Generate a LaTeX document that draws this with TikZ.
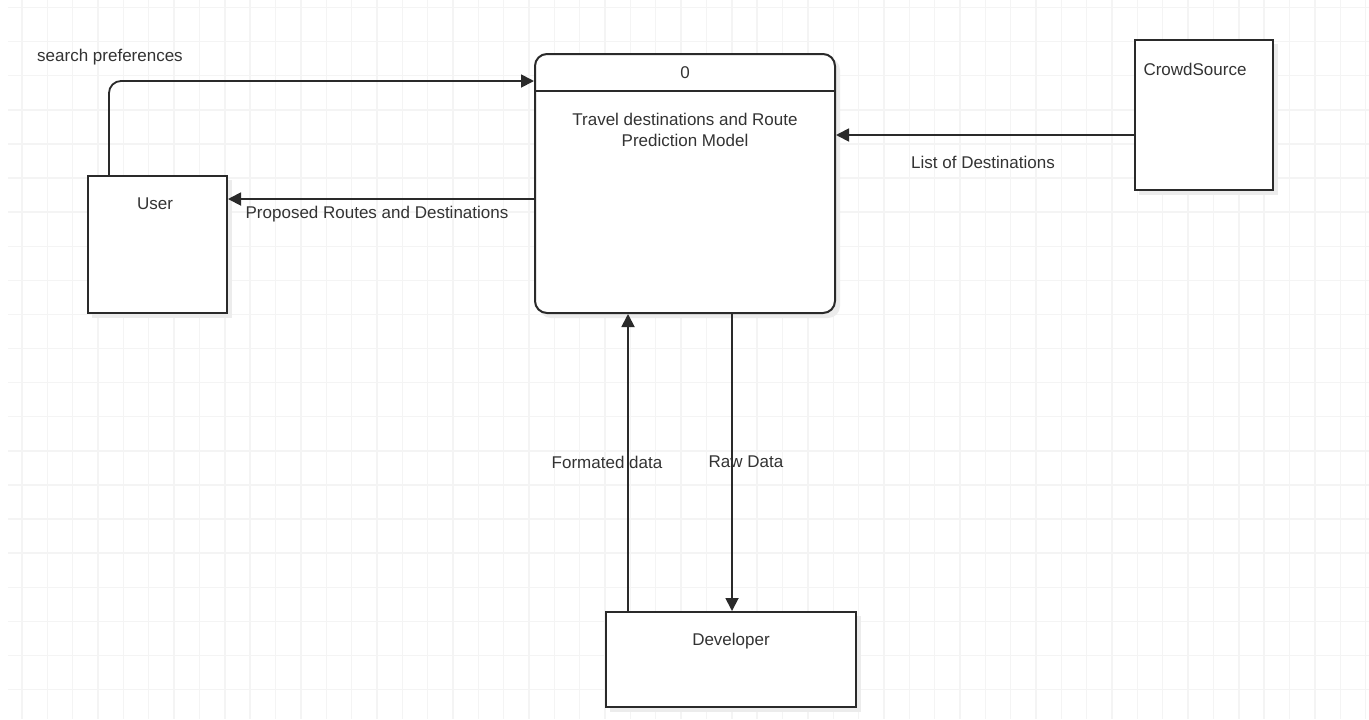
\documentclass[tikz,border=0pt]{standalone}
\usepackage{fontspec}
\setmainfont{Liberation Sans}
\usetikzlibrary{arrows.meta,calc}
\definecolor{inktext}{HTML}{333333}
\definecolor{inkline}{HTML}{2A2A2A}
\definecolor{gridline}{HTML}{F4F4F4}
\definecolor{shade}{HTML}{ECECEC}
\tikzset{
  entity/.style={draw=inkline, line width=1pt, fill=white, rectangle, inner sep=0pt},
  procbox/.style={entity, rounded corners=6pt},
  txt/.style={inner sep=0pt, text=inktext, font=\fontsize{8.5}{10.5}\selectfont, align=center},
  flow/.style={draw=inkline, line width=0.9pt, -{Triangle[length=6.5pt,width=6.5pt]}},
  shadowfill/.style={fill=shade, draw=none}
}
\begin{document}
\begin{tikzpicture}[x=0.5pt,y=-0.5pt]
\useasboundingbox (0,0) rectangle (1369,719);
\fill[white] (0,0) rectangle (1369,719);
% background grid
\foreach \i in {0,...,20} {
  \draw[gridline, line width=0.7pt] (8,{7.5+34.1*\i}) -- (1369,{7.5+34.1*\i});
}
\foreach \i in {0,...,53} {
  \draw[gridline, line width=0.7pt] ({22+25.35*\i},0) -- ({22+25.35*\i},719);
}
% soft drop shadows
\fill[shadowfill] (92,180) rectangle (232,318);
\fill[shadowfill, rounded corners=6pt] (539,58) rectangle (840,318);
\fill[shadowfill] (1139,44) rectangle (1278,195);
\fill[shadowfill] (610,616) rectangle (861,712);

% external entities and the process
\node[entity, minimum width=69.5pt, minimum height=68.5pt] (user) at (157.5,244.5) {};
\node[procbox, minimum width=150pt, minimum height=129.5pt] (proc) at (685,183.5) {};
\node[entity, minimum width=69pt, minimum height=75pt] (crowd) at (1204,115) {};
\node[entity, minimum width=125pt, minimum height=47.5pt] (dev) at (731,659.5) {};

% process header divider
\draw[inkline, line width=1pt] ($(proc.north west)+(0,-19pt)$) -- ($(proc.north east)+(0,-19pt)$);

% box texts
\node[txt] (usertxt) at (155,204) {User};
\node[txt] (zero) at (685,73) {0};
\node[txt] (proctxt) at (685,130) {Travel destinations and Route\\Prediction Model};
\node[txt] (crowdtxt) at (1195,69) {CrowdSource};
\node[txt] (devtxt) at (731,641) {Developer};

% anchor points of the flows
\coordinate (propstart) at ($(proc.west)+(0,-7.75pt)$);
\coordinate (liststart) at ($(crowd.west)+(0,-10pt)$);
\coordinate (formstart) at ($(dev.north)+(-51.5pt,0)$);
\coordinate (rawstart) at ($(proc.south)+(23.5pt,0)$);

% data flows
\draw[flow, rounded corners=6pt] ($(user.north west)+(11pt,0)$) |- ($(proc.north west)+(0,-14pt)$);
\draw[flow] (propstart) -- (propstart -| user.east);
\draw[flow] (liststart) -- (liststart -| proc.east);
\draw[flow] (formstart) -- (formstart |- proc.south);
\draw[flow] (rawstart) -- (rawstart |- dev.north);

% flow labels
\node[txt] (lsearch) at (110,57) {search preferences};
\node[txt] (lprop) at (377,214) {Proposed Routes and Destinations};
\node[txt] (llist) at (983,162) {List of Destinations};
\node[txt] (lform) at (607,462) {Formated data};
\node[txt] (lraw) at (746,462) {Raw Data};
\end{tikzpicture}
\end{document}
